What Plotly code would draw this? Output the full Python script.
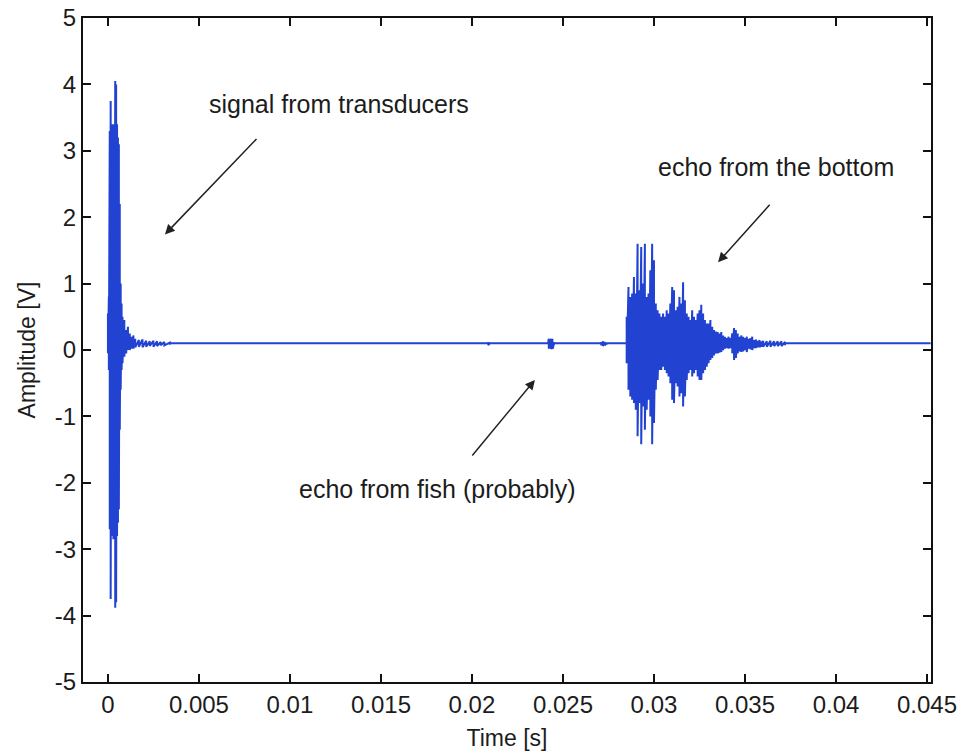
import plotly.graph_objects as go

# ---------------- data ----------------
baseline_level = 0.1
t_end = 0.0452

# transmitted pulse + ringing (time [s], upper, lower amplitude [V])
pulse_t = [0.00000, 0.00005, 0.00010, 0.00015, 0.00020, 0.00025, 0.00030, 0.00035,
           0.00040, 0.00045, 0.00050, 0.00055, 0.00060, 0.00065, 0.00070, 0.00075,
           0.00080, 0.00090, 0.00100, 0.00110, 0.00120, 0.00130, 0.00140, 0.00150,
           0.00170, 0.00190, 0.00210, 0.00230, 0.00250, 0.00270, 0.00290, 0.00310,
           0.00340]
pulse_hi = [0.55, 0.80, 3.30, 3.75, 3.40, 3.40, 3.35, 3.40,
            4.05, 4.00, 3.40, 3.20, 3.10, 2.20, 1.00, 0.70,
            0.50, 0.45, 0.30, 0.35, 0.25, 0.20, 0.22, 0.17,
            0.15, 0.16, 0.14, 0.13, 0.14, 0.13, 0.12, 0.12,
            0.11]
pulse_lo = [-0.05, -0.30, -2.70, -3.75, -2.80, -2.80, -2.85, -2.80,
            -3.88, -3.80, -2.80, -2.60, -2.40, -1.20, -0.60, -0.30,
            -0.20, -0.10, -0.05, 0.00, 0.00, 0.02, 0.02, 0.04,
            0.05, 0.04, 0.05, 0.06, 0.05, 0.06, 0.07, 0.07,
            0.08]

# tiny blip before the fish echo
blip1_t = [0.02090, 0.02095]
blip1_hi = [0.12, 0.11]
blip1_lo = [0.07, 0.08]

# echo from fish
fish_t = [0.02418, 0.02422, 0.02426, 0.02430, 0.02434, 0.02438, 0.02442, 0.02446, 0.02450]
fish_hi = [0.15, 0.17, 0.16, 0.14, 0.17, 0.16, 0.17, 0.15, 0.12]
fish_lo = [0.03, 0.02, 0.03, 0.05, 0.02, 0.03, 0.02, 0.04, 0.07]

# small blip after the fish echo
blip2_t = [0.02710, 0.02720, 0.02730, 0.02740]
blip2_hi = [0.12, 0.13, 0.12, 0.11]
blip2_lo = [0.07, 0.06, 0.07, 0.08]

# echo from the bottom
bottom_t = [0.0285, 0.0286, 0.0287, 0.0288, 0.0289, 0.0290, 0.0291, 0.0292, 0.0293, 0.0294,
            0.0295, 0.0296, 0.0297, 0.0298, 0.0299, 0.0300, 0.0301, 0.0302, 0.0303, 0.0304,
            0.0305, 0.0306, 0.0307, 0.0308, 0.0309, 0.0310, 0.0311, 0.0312, 0.0313, 0.0314,
            0.0315, 0.0316, 0.0317, 0.0318, 0.0319, 0.0320, 0.0321, 0.0322, 0.0323, 0.0324,
            0.0325, 0.0326, 0.0327, 0.0328, 0.0329, 0.0330, 0.0331, 0.0332, 0.0333, 0.0334,
            0.0335, 0.0336, 0.0337, 0.0338, 0.0339, 0.0340, 0.0341, 0.0342, 0.0343, 0.0344,
            0.0345, 0.0346, 0.0347, 0.0348, 0.0349, 0.0350, 0.0351, 0.0352, 0.0353, 0.0354,
            0.0355, 0.0356, 0.0357, 0.0358, 0.0359, 0.0360, 0.0362, 0.0364, 0.0366, 0.0368,
            0.0370, 0.0372]
bottom_hi = [0.50, 0.95, 0.80, 0.85, 1.10, 0.85, 1.60, 0.90, 1.55, 1.00,
             1.60, 0.80, 0.85, 1.20, 1.60, 1.35, 0.70, 0.60, 0.55, 0.50,
             0.55, 0.50, 0.60, 0.55, 0.70, 0.95, 0.90, 0.60, 0.65, 0.80,
             0.70, 1.02, 0.75, 0.55, 0.50, 0.45, 0.60, 0.50, 0.45, 0.55,
             0.60, 0.68, 0.55, 0.45, 0.40, 0.40, 0.45, 0.35, 0.30, 0.28,
             0.27, 0.25, 0.27, 0.22, 0.20, 0.18, 0.20, 0.18, 0.25, 0.33,
             0.30, 0.25, 0.20, 0.22, 0.20, 0.18, 0.20, 0.17, 0.18, 0.20,
             0.15, 0.16, 0.14, 0.15, 0.13, 0.14, 0.13, 0.14, 0.13, 0.13,
             0.13, 0.12]
bottom_lo = [-0.20, -0.60, -0.70, -0.75, -0.80, -0.90, -1.30, -0.80, -1.42, -0.85,
             -1.20, -0.90, -0.75, -1.00, -1.42, -1.10, -0.60, -0.45, -0.30, -0.30,
             -0.25, -0.30, -0.35, -0.40, -0.50, -0.75, -0.80, -0.50, -0.55, -0.70,
             -0.65, -0.85, -0.70, -0.45, -0.35, -0.30, -0.40, -0.35, -0.30, -0.40,
             -0.45, -0.45, -0.35, -0.30, -0.25, -0.20, -0.15, -0.12, -0.08, -0.05,
             -0.05, -0.04, -0.03, 0.00, 0.02, 0.03, 0.02, 0.03, -0.05, -0.15,
             -0.12, -0.05, -0.02, -0.03, -0.02, 0.00, -0.03, 0.02, 0.01, 0.00,
             0.03, 0.03, 0.04, 0.04, 0.05, 0.05, 0.05, 0.05, 0.06, 0.06,
             0.06, 0.07]

x_tickvals = [0, 0.005, 0.01, 0.015, 0.02, 0.025, 0.03, 0.035, 0.04, 0.045]
x_ticktext = ["0", "0.005", "0.01", "0.015", "0.02", "0.025", "0.03", "0.035", "0.04", "0.045"]
y_tickvals = [-5, -4, -3, -2, -1, 0, 1, 2, 3, 4, 5]
y_ticktext = ["-5", "-4", "-3", "-2", "-1", "0", "1", "2", "3", "4", "5"]

# annotations: (text, x, y)
labels = [("signal from transducers", 0.01270, 3.71),
          ("echo from the bottom", 0.03670, 2.76),
          ("echo from fish (probably)", 0.01808, -2.09)]
# arrows: head (x, y), tail (x, y)
arrows = [((0.00313, 1.74), (0.00824, 3.20)),
          ((0.03352, 1.32), (0.03643, 2.21)),
          ((0.02346, -0.45), (0.01995, -1.61))]

# ---------------- build the trace ----------------
xs, ys = [], []
segments = [(pulse_t, pulse_hi, pulse_lo),
            (blip1_t, blip1_hi, blip1_lo),
            (fish_t, fish_hi, fish_lo),
            (blip2_t, blip2_hi, blip2_lo),
            (bottom_t, bottom_hi, bottom_lo)]
for seg_t, seg_hi, seg_lo in segments:
    xs.append(seg_t[0]); ys.append(baseline_level)
    for t, h, l in zip(seg_t, seg_hi, seg_lo):
        xs += [t, t]
        ys += [h, l]
    xs.append(seg_t[-1]); ys.append(baseline_level)
xs.append(t_end); ys.append(baseline_level)

fig = go.Figure()
fig.add_trace(go.Scatter(x=xs, y=ys, mode="lines",
                         line=dict(color="#2243d2", width=2),
                         hoverinfo="skip", showlegend=False))

FONT = "Liberation Sans, Arial, Helvetica, sans-serif"
TXT = "#1c1c1c"

for text, x, y in labels:
    fig.add_annotation(x=x, y=y, text=text, showarrow=False,
                       font=dict(family=FONT, size=25, color=TXT),
                       xanchor="center", yanchor="middle")
for (hx, hy), (tx, ty) in arrows:
    fig.add_annotation(x=hx, y=hy, ax=tx, ay=ty, axref="x", ayref="y",
                       xref="x", yref="y", text="", showarrow=True,
                       arrowhead=2, arrowsize=1.3, arrowwidth=1.5,
                       arrowcolor="#222222")

fig.update_xaxes(range=[-0.00137, 0.04522], tickvals=x_tickvals, ticktext=x_ticktext,
                 ticks="inside", ticklen=8, tickwidth=1.5, tickcolor="#111",
                 showline=True, linecolor="#111", linewidth=2, mirror="ticks",
                 showgrid=False, zeroline=False,
                 tickfont=dict(family=FONT, size=24, color=TXT),
                 title=dict(text="Time [s]", font=dict(family=FONT, size=23, color=TXT),
                            standoff=13))
fig.update_yaxes(range=[-5, 5], tickvals=y_tickvals, ticktext=y_ticktext,
                 ticks="inside", ticklen=8, tickwidth=1.5, tickcolor="#111",
                 showline=True, linecolor="#111", linewidth=2, mirror="ticks",
                 showgrid=False, zeroline=False,
                 tickfont=dict(family=FONT, size=24, color=TXT),
                 title=dict(text="Amplitude [V]", font=dict(family=FONT, size=23, color=TXT),
                            standoff=13))
fig.update_layout(width=962, height=752,
                  margin=dict(l=83, r=31, t=18, b=70, autoexpand=False),
                  plot_bgcolor="white", paper_bgcolor="white")

fig.write_html("out.html")
